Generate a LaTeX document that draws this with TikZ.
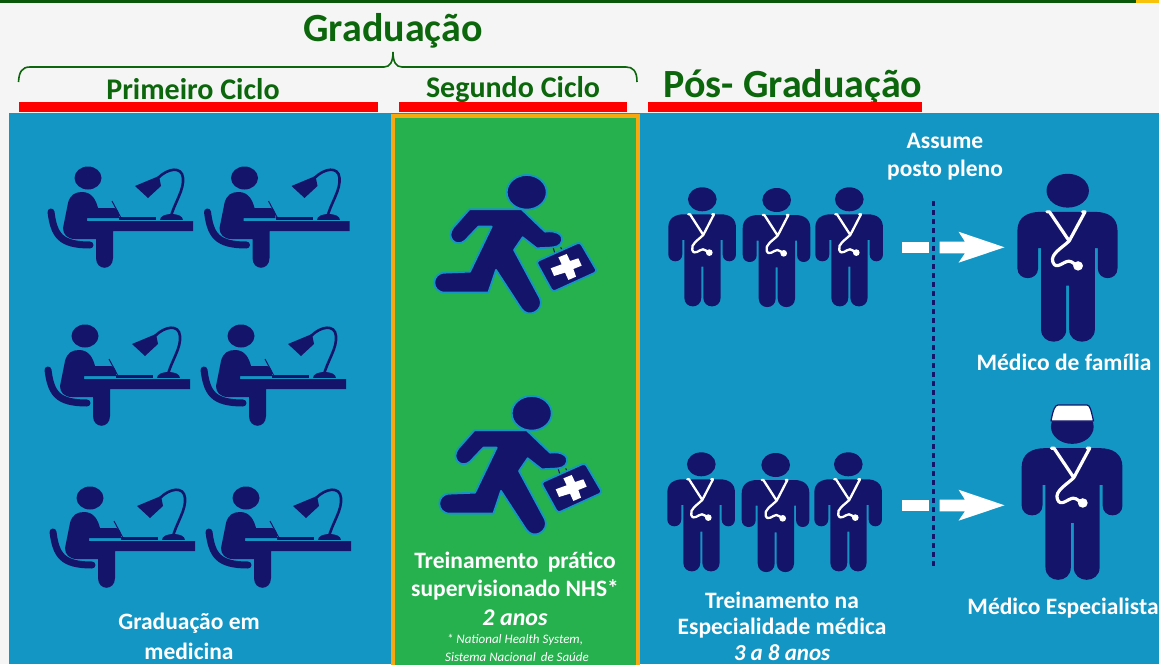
\documentclass[tikz,border=0pt]{standalone}
\usepackage{fontspec}
\setmainfont{Carlito}
\definecolor{navy}{HTML}{14146B}
\definecolor{panelblue}{HTML}{1496C4}
\definecolor{panelgreen}{HTML}{27B14E}
\definecolor{gold}{HTML}{F5A80F}
\definecolor{titlegreen}{HTML}{0C660C}
\newcommand\doctorshape[1]{%
  \fill[navy] (0,0) ellipse [x radius=43, y radius=36];
  \fill[navy] (-60,122) -- (-60,165) .. controls (-60,193) and (-102,193) .. (-102,165)
    -- (-102,85) .. controls (-102,57) and (-82,45) .. (-55,45) -- (55,45)
    .. controls (82,45) and (101,57) .. (101,85) -- (101,165)
    .. controls (101,193) and (61,193) .. (61,165) -- (61,122) -- (55,122) -- (55,295)
    .. controls (55,330) and (3,330) .. (3,295) -- (3,202) -- (-3,202) -- (-3,295)
    .. controls (-3,330) and (-54,330) .. (-54,295) -- (-54,122) -- cycle;
  \draw[white,line width=#1,line join=round,line cap=round]
    (-42,45) -- (-37,45) -- (3,107) -- (35,45) -- (30,45)
    (3,107) .. controls (-12,122) and (-36,135) .. (-30,152)
    .. controls (-24,170) and (-8,150) .. (2,150) .. controls (10,150) and (14,158) .. (21,160);
  \fill[white] (21,160) circle [radius=10];
}
\tikzset{
  student/.pic={
    \begin{scope}[shift={(-88,-178)}]
      \fill[navy] (88,178) ellipse [x radius=13.5, y radius=11.5];
      \fill[navy] (63,228) -- (68,203) .. controls (70,195) and (75,192) .. (82,192)
        .. controls (92,192) and (96,200) .. (98,208) -- (114,208)
        .. controls (118,208) and (119,213) .. (119,218) -- (87,218) -- (87,221)
        -- (193,221) -- (193,231) -- (113,231) -- (113,258)
        .. controls (113,271) and (96,271) .. (96,258) -- (96,239) -- (75,239)
        .. controls (67,239) and (63,234) .. (63,228) -- cycle;
      \draw[navy,line width=7pt,line cap=round] (51,212) .. controls (54,235) and (60,245) .. (90,245);
      \draw[navy,line width=1pt] (112,201) -- (121,218);
      \fill[navy] (119,217) rectangle (156,220);
      \fill[navy] (160,220) .. controls (160,212) and (183,212) .. (183,220) -- cycle;
      \draw[navy,line width=2.6pt] (171,216) .. controls (176,200) and (184,190) .. (183,178)
        .. controls (182,166) and (168,168) .. (158,178);
      \fill[navy] (135,186) -- (159,176) -- (161,186) -- (148,198) -- cycle;
    \end{scope}
  },
  runner/.pic={
    \begin{scope}[scale=1/3,shift={(-410,-127)}]
      \path[fill=navy,draw=panelblue,line width=1.8pt] (410,127) ellipse [x radius=60, y radius=52];
      \path[fill=navy,draw=panelblue,line width=1.8pt,line join=round]
        (238,178) -- (395,178) -- (465,245) .. controls (500,240) and (520,255) .. (516,272)
        .. controls (512,290) and (495,292) .. (480,293) -- (440,295) -- (398,262) -- (372,300)
        -- (450,445) .. controls (465,480) and (415,510) .. (393,475) -- (318,360) -- (295,428)
        -- (165,428) .. controls (122,428) and (122,368) .. (165,368) -- (240,365) -- (305,230)
        -- (265,230) -- (225,272) .. controls (198,295) and (165,262) .. (190,232) -- cycle;
      \draw[navy,line width=1pt] (490,295) -- (496,315) (512,292) -- (518,305);
      \path[fill=navy,draw=panelblue,line width=1.8pt,rounded corners=3pt]
        (438,335) -- (570,276) -- (622,365) -- (488,426) -- cycle;
      \fill[white] (505,322) -- (530,312) -- (540,333) -- (565,325) -- (575,347) -- (550,357)
        -- (558,380) -- (535,390) -- (525,368) -- (492,378) -- (482,355) -- (515,343) -- cycle;
    \end{scope}
  },
  doctor/.pic={\begin{scope}[scale=1/3]\doctorshape{2.3pt}\end{scope}},
  bigdoctor/.pic={\begin{scope}[scale=1/3]\doctorshape{3.2pt}\end{scope}},
  whitearrow/.pic={
    \fill[white] (902.3,241.7) rectangle (928.7,253.3);
    \fill[white] (939.5,241.7) -- (965,241.7) -- (958.5,231.7) -- (1004.5,247.3)
      -- (958.5,262.7) -- (965,253.3) -- (939.5,253.3) -- cycle;
  },
  lbl/.style={text=white,font=\bfseries\fontsize{23.5}{26}\selectfont,inner sep=0pt,align=center},
  lblit/.style={text=white,font=\bfseries\itshape\fontsize{24}{26}\selectfont,inner sep=0pt},
  note/.style={text=white,font=\itshape\fontsize{13}{15}\selectfont,inner sep=0pt},
  ttl/.style={text=titlegreen,font=\bfseries\fontsize{30}{33}\selectfont,inner sep=0pt},
  bigttl/.style={text=titlegreen,font=\bfseries\fontsize{40}{44}\selectfont,inner sep=0pt},
  redbar/.style={fill=red},
}
\begin{document}
\begin{tikzpicture}[x=1pt,y=-1pt]
  \useasboundingbox (0,0) rectangle (1159,664);
  \clip (0,0) rectangle (1159,664);
  \fill[black!4] (0,0) rectangle (1159,664);
  \fill[titlegreen!85!black] (0,0) rectangle (1136,2.5);
  \fill[gold!70!yellow] (1136,0) rectangle (1159,3);

  % panels
  \fill[panelblue] (9,113) rectangle (1159,664);
  \path[fill=panelgreen,draw=gold,line width=4pt] (393,115.5) rectangle (638,670);

  % headings
  \node[bigttl] (grad) at (393,31) {Graduação};
  \node[ttl] (prim) at (193,89) {Primeiro Ciclo};
  \node[ttl] (seg) at (513,90) {Segundo Ciclo};
  \node[bigttl] (pos) at (793,87) {Pós- Graduação};
  \fill[redbar] (19,102) rectangle (378,112);
  \fill[redbar] (399,102) rectangle (627,112);
  \fill[redbar] (648,102) rectangle (922,112);

  % brace
  \draw[titlegreen,line width=1.6pt]
    (18.5,82) .. controls (19,72) and (22,67) .. (30,67) -- (384,67)
    .. controls (390,67) and (393,62) .. (393,52) .. controls (393,62) and (396,67) .. (402,67)
    -- (626,67) .. controls (633,67) and (637,71) .. (637,82);

  % students
  \foreach \x/\y [count=\i] in {88/178,244.5/178,85/336,241/336,90/498,246/498}
    \pic (student\i) at (\x,\y) {student};

  % runners
  \pic (runnerA) at (526.7,192.3) {runner};
  \pic (runnerB) at (531.7,413.3) {runner};

  % doctors
  \foreach \x/\y [count=\i] in {702.3/199.3,776.7/200,849.3/199.3,701.3/464.3,775.7/465,848.3/464.3}
    \pic (doctor\i) at (\x,\y) {doctor};
  \pic[xscale=1.48,yscale=1.41] (familyDoc) at (1067.7,190.7) {bigdoctor};
  \pic[xscale=1.49,yscale=1.43] (specDoc) at (1072.3,426.7) {bigdoctor};
  \path[fill=white,draw=navy,line width=1.2pt,line join=round]
    (1051,421) .. controls (1053,410) and (1055,405) .. (1058,405) -- (1087,405)
    .. controls (1090,405) and (1091,410) .. (1093.5,421) -- cycle;

  % arrows and dashed line
  \pic (arrowA) at (0,0) {whitearrow};
  \pic (arrowB) at (0,258) {whitearrow};
  \draw[navy,line width=2.2pt,dash pattern=on 5pt off 4pt] (933.5,201) -- (933.5,568);

  % labels
  \node[lbl] (t1) at (189,623) {Graduação em};
  \node[lbl] (t2) at (189,651) {medicina};
  \node[lbl] (t3) at (515,562) {Treinamento\, prático};
  \node[lbl] (t4) at (515,590) {supervisionado NHS*};
  \node[lblit] (t5) at (515,618) {2 anos};
  \node[note] (t6) at (515,640) {* National Health System,};
  \node[note] (t7) at (517,657) {Sistema Nacional\, de Saúde};
  \node[lbl] (t8) at (945,141) {Assume};
  \node[lbl] (t9) at (945,170) {posto pleno};
  \node[lbl] (t10) at (1064,362) {Médico de família};
  \node[lbl] (t11) at (1063,608) {Médico Especialista};
  \node[lbl] (t12) at (782,600) {Treinamento na};
  \node[lbl] (t13) at (782,628) {Especialidade médica};
  \node[lblit,font=\bfseries\itshape\fontsize{23}{25}\selectfont] (t14) at (782,652.5) {3 a 8 anos};
\end{tikzpicture}
\end{document}
